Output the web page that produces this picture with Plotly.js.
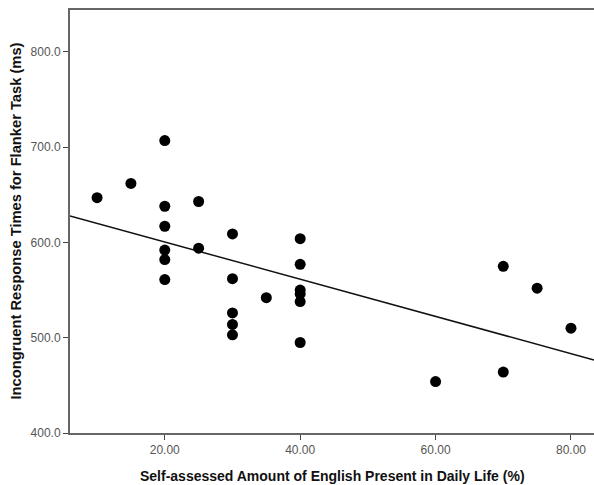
<!DOCTYPE html>
<html>
<head>
<meta charset="utf-8">
<script src="https://cdn.plot.ly/plotly-3.0.1.min.js"></script>
<style>html,body{margin:0;padding:0;background:#fff;}#chart{width:594px;height:485px;}</style>
</head>
<body>
<div id="chart"></div>
<script>
// Self-assessed English in daily life (%)
const englishPct = [10, 15, 20, 20, 20, 20, 20, 20, 25, 25, 30, 30, 30, 30, 30, 35, 40, 40, 40, 40, 40, 40, 60, 70, 70, 75, 80];
// Incongruent response times (ms)
const responseMs = [647, 662, 707, 638, 617, 592, 582, 561, 643, 594, 609, 562, 526, 514, 503, 542, 604, 577, 550, 546, 538, 495, 454, 575, 464, 552, 510];
const xRange = [6.0, 83.4];
const yRange = [400, 844];
const xTitle = 'Self-assessed Amount of English Present in Daily Life (%)';
const yTitle = 'Incongruent Response Times for Flanker Task (ms)';

// least-squares fit line
const n = englishPct.length;
const mx = englishPct.reduce((a, b) => a + b, 0) / n;
const my = responseMs.reduce((a, b) => a + b, 0) / n;
let sxy = 0, sxx = 0;
for (let i = 0; i < n; i++) { sxy += (englishPct[i] - mx) * (responseMs[i] - my); sxx += (englishPct[i] - mx) ** 2; }
const slope = sxy / sxx, intercept = my - slope * mx;
const fitX = xRange.slice();
const fitY = fitX.map(x => intercept + slope * x);

const traces = [
  {x: fitX, y: fitY, mode: 'lines', line: {color: '#111', width: 1.5}, hoverinfo: 'skip'},
  {x: englishPct, y: responseMs, mode: 'markers', marker: {color: '#000', size: 11, line: {width: 0}}}
];

const axisCommon = {
  showgrid: false, zeroline: false, showline: true, linecolor: '#666', linewidth: 2,
  ticks: 'outside', ticklen: 5, tickwidth: 1, tickcolor: '#444',
  tickfont: {family: 'Liberation Sans, Arial, sans-serif', size: 12, color: '#555'}
};

const xTitleFont = {family: 'Liberation Sans, Arial, sans-serif', size: 14, color: '#111'};
const yTitleFont = {family: 'Liberation Sans, Arial, sans-serif', size: 14.7, color: '#111'};

const layout = {
  width: 594, height: 485,
  margin: {l: 70, r: 0, t: 10, b: 52},
  paper_bgcolor: '#fff', plot_bgcolor: '#fff',
  showlegend: false,
  xaxis: Object.assign({}, axisCommon, {range: xRange, tick0: 0, dtick: 20, tickformat: '.2f', mirror: true}),
  yaxis: Object.assign({}, axisCommon, {range: yRange, tick0: 0, dtick: 100, tickformat: '.1f'}),
  annotations: [
    {text: '<b>' + xTitle + '</b>', xref: 'paper', yref: 'paper', x: 0.5, xanchor: 'center', y: 0, yshift: -33, yanchor: 'top', showarrow: false, font: xTitleFont},
    {text: '<b>' + yTitle + '</b>', xref: 'paper', yref: 'paper', x: 0, xanchor: 'center', xshift: -55, y: 0.5, yanchor: 'middle', textangle: -90, showarrow: false, font: yTitleFont}
  ]
};

Plotly.newPlot('chart', traces, layout, {displayModeBar: false, staticPlot: true});
</script>
</body>
</html>
